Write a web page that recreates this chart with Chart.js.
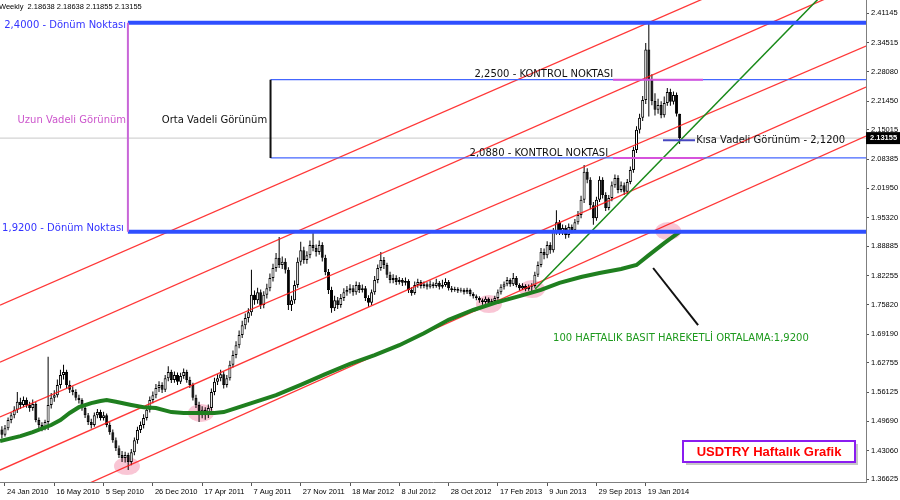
<!DOCTYPE html>
<html>
<head>
<meta charset="utf-8">
<title>USDTRY Haftalık Grafik</title>
<script src="https://cdn.jsdelivr.net/npm/chart.js@4"></script>
<style>
    html, body { margin: 0; padding: 0; background: #fff; }
    #wrap { width: 900px; height: 500px; }
</style>
</head>
<body>
<div id="wrap"><canvas id="usdtryChart" width="900" height="500"></canvas></div>
<script>
// Weekly candles, first one is the week before 24 Jan 2010 (week index -1)
const firstWeek = -1;

const opens = [
    1.478,1.466,1.481,1.499,1.510,1.522,1.540,1.533,1.544,1.533,1.526,
    1.535,1.499,1.488,1.481,1.495,1.533,1.549,1.555,1.578,1.600,
    1.607,1.578,1.567,1.562,1.549,1.544,1.526,1.510,1.495,1.488,
    1.510,1.517,1.504,1.510,1.488,1.472,1.454,1.436,1.421,1.414,
    1.421,1.405,1.427,1.454,1.477,1.488,1.504,1.522,1.544,1.555,
    1.571,1.578,1.567,1.593,1.607,1.589,1.600,1.585,1.598,1.607,
    1.589,1.578,1.549,1.533,1.510,1.522,1.510,1.526,1.562,1.585,
    1.593,1.602,1.578,1.593,1.623,1.645,1.667,1.690,1.712,1.728,
    1.741,1.780,1.768,1.786,1.757,1.780,1.795,1.818,1.840,1.863,
    1.847,1.854,1.836,1.757,1.768,1.802,1.854,1.880,1.858,1.869,
    1.892,1.885,1.876,1.892,1.863,1.831,1.791,1.750,1.768,1.757,
    1.773,1.786,1.791,1.795,1.786,1.802,1.791,1.795,1.773,1.762,
    1.786,1.813,1.840,1.858,1.847,1.825,1.813,1.818,1.809,1.813,
    1.807,1.811,1.791,1.784,1.802,1.809,1.800,1.804,1.798,1.804,
    1.800,1.807,1.798,1.802,1.809,1.795,1.791,1.793,1.789,1.791,
    1.786,1.791,1.782,1.777,1.773,1.768,1.764,1.771,1.762,1.766,
    1.773,1.786,1.798,1.804,1.813,1.804,1.818,1.802,1.795,1.800,
    1.793,1.798,1.800,1.825,1.847,1.876,1.869,1.892,1.880,1.921,
    1.943,1.921,1.930,1.914,1.932,1.925,1.943,1.959,1.993,2.056,
    2.038,1.981,1.952,1.993,2.038,2.004,1.975,1.997,2.026,2.042,
    2.015,2.026,2.011,2.033,2.060,2.105,2.150,2.177,2.217,2.330,
    2.262,2.215,2.195,2.206,2.183,2.210,2.235,2.213,2.228,2.18638
];

const highs = [
    1.485,1.488,1.505,1.516,1.530,1.562,1.549,1.552,1.550,1.540,1.545,
    1.540,1.505,1.494,1.500,1.641,1.560,1.566,1.590,1.612,1.623,
    1.612,1.588,1.575,1.568,1.556,1.548,1.532,1.515,1.502,1.516,
    1.524,1.522,1.518,1.514,1.494,1.478,1.460,1.442,1.430,1.428,
    1.426,1.434,1.460,1.484,1.496,1.512,1.530,1.552,1.563,1.580,
    1.586,1.584,1.600,1.620,1.612,1.608,1.606,1.605,1.615,1.612,
    1.596,1.583,1.556,1.540,1.530,1.528,1.534,1.570,1.594,1.602,
    1.612,1.608,1.600,1.632,1.655,1.676,1.700,1.722,1.738,1.750,
    1.836,1.790,1.796,1.792,1.788,1.805,1.828,1.850,1.874,1.910,
    1.866,1.862,1.842,1.778,1.812,1.864,1.899,1.888,1.878,1.902,
    1.921,1.893,1.902,1.898,1.870,1.838,1.798,1.778,1.775,1.782,
    1.795,1.800,1.804,1.802,1.810,1.808,1.803,1.800,1.779,1.792,
    1.822,1.848,1.876,1.865,1.852,1.832,1.826,1.824,1.820,1.818,
    1.819,1.815,1.797,1.810,1.816,1.813,1.810,1.808,1.812,1.808,
    1.816,1.811,1.814,1.817,1.813,1.800,1.798,1.797,1.796,1.795,
    1.796,1.794,1.786,1.781,1.777,1.772,1.776,1.774,1.771,1.778,
    1.792,1.804,1.810,1.820,1.817,1.829,1.822,1.806,1.806,1.804,
    1.803,1.806,1.832,1.855,1.885,1.884,1.900,1.898,1.930,1.970,
    1.948,1.938,1.936,1.940,1.938,1.950,1.968,2.002,2.071,2.064,
    2.044,1.988,2.000,2.046,2.044,2.010,2.004,2.034,2.050,2.048,
    2.034,2.032,2.040,2.068,2.112,2.158,2.186,2.226,2.345,2.392,
    2.275,2.232,2.220,2.214,2.225,2.244,2.242,2.236,2.234,2.18638
];

const lows = [
    1.458,1.462,1.476,1.492,1.503,1.515,1.524,1.528,1.527,1.518,1.520,
    1.494,1.480,1.474,1.476,1.477,1.525,1.540,1.550,1.570,1.590,
    1.570,1.560,1.555,1.543,1.536,1.520,1.504,1.488,1.480,1.484,
    1.503,1.498,1.498,1.483,1.466,1.448,1.430,1.414,1.405,1.404,
    1.387,1.398,1.420,1.446,1.470,1.480,1.498,1.516,1.537,1.548,
    1.562,1.560,1.562,1.586,1.582,1.583,1.578,1.580,1.592,1.583,
    1.571,1.543,1.526,1.495,1.503,1.500,1.504,1.520,1.555,1.578,
    1.586,1.570,1.572,1.588,1.617,1.638,1.660,1.683,1.703,1.718,
    1.733,1.758,1.760,1.748,1.750,1.772,1.788,1.810,1.832,1.840,
    1.838,1.828,1.746,1.744,1.760,1.796,1.846,1.850,1.850,1.862,
    1.878,1.866,1.870,1.855,1.824,1.782,1.740,1.744,1.748,1.751,
    1.766,1.778,1.783,1.778,1.780,1.784,1.785,1.766,1.753,1.757,
    1.780,1.806,1.834,1.838,1.818,1.806,1.806,1.802,1.803,1.800,
    1.801,1.784,1.778,1.780,1.796,1.794,1.795,1.792,1.794,1.795,
    1.796,1.792,1.794,1.798,1.790,1.786,1.787,1.784,1.785,1.781,
    1.782,1.777,1.772,1.768,1.762,1.758,1.760,1.756,1.757,1.762,
    1.769,1.781,1.792,1.799,1.798,1.800,1.797,1.790,1.791,1.788,
    1.789,1.784,1.796,1.820,1.842,1.860,1.862,1.872,1.875,1.915,
    1.914,1.914,1.906,1.908,1.918,1.920,1.938,1.952,1.986,2.030,
    1.972,1.937,1.946,1.988,1.996,1.968,1.970,1.990,2.020,2.008,
    2.010,2.004,2.006,2.028,2.054,2.098,2.142,2.170,2.208,2.180,
    2.205,2.182,2.186,2.176,2.178,2.204,2.204,2.207,2.180,2.11855
];

const closes = [
    1.466,1.481,1.499,1.510,1.522,1.540,1.533,1.544,1.533,1.526,1.535,
    1.499,1.488,1.481,1.495,1.533,1.549,1.555,1.578,1.600,1.607,
    1.578,1.567,1.562,1.549,1.544,1.526,1.510,1.495,1.488,1.510,
    1.517,1.504,1.510,1.488,1.472,1.454,1.436,1.421,1.414,1.421,
    1.405,1.427,1.454,1.477,1.488,1.504,1.522,1.544,1.555,1.571,
    1.578,1.567,1.593,1.607,1.589,1.600,1.585,1.598,1.607,1.589,
    1.578,1.549,1.533,1.510,1.522,1.510,1.526,1.562,1.585,1.593,
    1.602,1.578,1.593,1.623,1.645,1.667,1.690,1.712,1.728,1.741,
    1.780,1.768,1.786,1.757,1.780,1.795,1.818,1.840,1.863,1.847,
    1.854,1.836,1.757,1.768,1.802,1.854,1.880,1.858,1.869,1.892,
    1.885,1.876,1.892,1.863,1.831,1.791,1.750,1.768,1.757,1.773,
    1.786,1.791,1.795,1.786,1.802,1.791,1.795,1.773,1.762,1.786,
    1.813,1.840,1.858,1.847,1.825,1.813,1.818,1.809,1.813,1.807,
    1.811,1.791,1.784,1.802,1.809,1.800,1.804,1.798,1.804,1.800,
    1.807,1.798,1.802,1.809,1.795,1.791,1.793,1.789,1.791,1.786,
    1.791,1.782,1.777,1.773,1.768,1.764,1.771,1.762,1.766,1.773,
    1.786,1.798,1.804,1.813,1.804,1.818,1.802,1.795,1.800,1.793,
    1.798,1.800,1.825,1.847,1.876,1.869,1.892,1.880,1.921,1.943,
    1.921,1.930,1.914,1.932,1.925,1.943,1.959,1.993,2.056,2.038,
    1.981,1.952,1.993,2.038,2.004,1.975,1.997,2.026,2.042,2.015,
    2.026,2.011,2.033,2.060,2.105,2.150,2.177,2.217,2.330,2.262,
    2.215,2.195,2.206,2.183,2.210,2.235,2.213,2.228,2.186,2.13155
];

// 100 week simple moving average
const maWeeks  = [-1.6, 5, 9, 15, 18, 21, 24, 28, 31, 33, 36, 41, 45, 49, 54, 58, 63, 68, 71, 75,
                  80, 88, 96, 104, 112, 120, 128, 136, 144, 152, 160, 167, 174, 180, 187, 193, 200, 205, 209, 214, 219];
const maValues = [1.452, 1.463, 1.472, 1.488, 1.499, 1.515, 1.528, 1.537, 1.542, 1.544, 1.540, 1.533, 1.528, 1.526, 1.517, 1.515, 1.515, 1.515, 1.517, 1.526,
                  1.537, 1.555, 1.578, 1.602, 1.625, 1.645, 1.667, 1.694, 1.724, 1.746, 1.764, 1.777, 1.791, 1.807, 1.820, 1.829, 1.838, 1.847, 1.869, 1.896, 1.921];

// Axis ticks
const xTickWeeks = [0, 16, 32, 48, 64, 80, 96, 112, 128, 144, 160, 176, 192, 208];
const xLabels = ['24 Jan 2010', '16 May 2010', '5 Sep 2010', '26 Dec 2010', '17 Apr 2011', '7 Aug 2011', '27 Nov 2011',
                 '18 Mar 2012', '8 Jul 2012', '28 Oct 2012', '17 Feb 2013', '9 Jun 2013', '29 Sep 2013', '19 Jan 2014'];
const yTicks = [2.41145, 2.34515, 2.28080, 2.21450, 2.15015, 2.08385, 2.01950, 1.95320, 1.88885,
                1.82255, 1.75820, 1.69190, 1.62755, 1.56125, 1.49690, 1.43060, 1.36625];

// Drawn objects (week index / price)
const edgeWeeks = [-1.62, 279.5];
const channelLeft  = [1.757, 1.629, 1.506, 1.387, 1.268];
const channelRight = [2.603, 2.484, 2.338, 2.246, 2.136];
const trendWeeks = [172.1, 268];
const trendValues = [1.793, 2.472];
const turnLevels = [2.390, 1.9215];     // 2,4000 / 1,9200 Dönüm Noktası
const checkLevels = [2.2625, 2.087];    // 2,2500 / 2,0880 Kontrol Noktası
const shortLevel = 2.127;               // Kısa vadeli 2,1200
const lowMarkWeeks  = [39.6, 63.6, 157.1, 171.1, 215.3];
const lowMarkValues = [1.396, 1.515, 1.7594, 1.793, 1.923];
const arrowWeeks = [210.4, 225];
const arrowValues = [1.8402, 1.7123];

const yMin = 1.3602, yMax = 2.4413;
const lastClose = closes[closes.length - 1];
const weekOf = i => firstWeek + i;

function segment(label, xs, ys, color, width, order) {
    return {
        type: 'line',
        label: label,
        data: xs.map((x, i) => ({ x: x, y: ys[i] })),
        borderColor: color,
        borderWidth: width,
        pointRadius: 0,
        pointHoverRadius: 0,
        tension: 0,
        fill: false,
        order: order
    };
}

const notes = [
    { text: '2,4000 - Dönüm Noktası', week: 39.3, price: 2.385, align: 'right', color: '#3333ff' },
    { text: 'Uzun Vadeli Görünüm', week: 39.3, price: 2.1706, align: 'right', color: '#cc55cc' },
    { text: 'Orta Vadeli Görünüm', week: 85.1, price: 2.1706, align: 'right', color: '#111111' },
    { text: '2,2500 - KONTROL NOKTASI', week: 197.4, price: 2.2753, align: 'right', color: '#111111' },
    { text: '2,0880 - KONTROL NOKTASI', week: 195.8, price: 2.098, align: 'right', color: '#111111' },
    { text: 'Kısa Vadeli Görünüm - 2,1200', week: 224.4, price: 2.127, align: 'left', color: '#111111' },
    { text: '1,9200 - Dönüm Noktası', week: 38.6, price: 1.930, align: 'right', color: '#3333ff' },
    { text: '100 HAFTALIK BASIT HAREKETLİ ORTALAMA:1,9200', week: 177.9, price: 1.683, align: 'left', color: '#1e9a1e' }
];

// Pink circles behind, texts and boxes on top
const overlay = {
    id: 'overlay',
    beforeDatasetsDraw(chart) {
        const { ctx, chartArea, scales: { x, y } } = chart;
        ctx.save();
        ctx.beginPath();
        ctx.rect(chartArea.left, chartArea.top, chartArea.width, chartArea.height);
        ctx.clip();
        ctx.fillStyle = 'rgba(246, 168, 190, 0.65)';
        lowMarkWeeks.forEach((w, i) => {
            ctx.beginPath();
            ctx.ellipse(x.getPixelForValue(w), y.getPixelForValue(lowMarkValues[i]), 13, 9, 0, 0, Math.PI * 2);
            ctx.fill();
        });
        ctx.restore();
    },
    afterDatasetsDraw(chart) {
        const { ctx, chartArea, scales: { x, y } } = chart;
        ctx.save();
        ctx.textBaseline = 'middle';

        ctx.font = "10px 'DejaVu Sans'";
        notes.forEach(n => {
            ctx.fillStyle = n.color;
            ctx.textAlign = n.align;
            ctx.fillText(n.text, x.getPixelForValue(n.week), y.getPixelForValue(n.price));
        });

        // header
        ctx.font = "7.5px 'Liberation Sans'";
        ctx.fillStyle = '#000';
        ctx.textAlign = 'left';
        ctx.fillText('Weekly  ' + opens[opens.length - 1].toFixed(5) + ' ' + highs[highs.length - 1].toFixed(5) + ' ' +
                     lows[lows.length - 1].toFixed(5) + ' ' + lastClose.toFixed(5), -1, 7);

        // title box
        const bx = 683, by = 441, bw = 172, bh = 21;
        ctx.fillStyle = 'rgba(0, 0, 0, 0.22)';
        ctx.fillRect(bx + 3, by + 3, bw, bh);
        ctx.fillStyle = '#fff';
        ctx.fillRect(bx, by, bw, bh);
        ctx.strokeStyle = '#8a1cf0';
        ctx.lineWidth = 2;
        ctx.strokeRect(bx, by, bw, bh);
        ctx.fillStyle = '#ff0000';
        ctx.font = "bold 13px 'Liberation Sans'";
        ctx.textAlign = 'center';
        ctx.fillText('USDTRY Haftalık Grafik', bx + bw / 2, by + bh / 2 + 1);

        // current price tag on the axis
        const py = y.getPixelForValue(lastClose);
        ctx.fillStyle = '#000';
        ctx.fillRect(chartArea.right, py - 6, 34, 12);
        ctx.fillStyle = '#fff';
        ctx.font = "bold 7.5px 'Liberation Sans'";
        ctx.textAlign = 'left';
        ctx.fillText(lastClose.toFixed(5), chartArea.right + 4, py);
        ctx.restore();
    }
};

const datasets = [
    {
        label: 'wicks',
        data: opens.map((o, i) => ({ x: weekOf(i), y: [lows[i], highs[i]] })),
        backgroundColor: '#000',
        borderWidth: 0,
        barThickness: 1,
        grouped: false,
        inflateAmount: 0,
        order: 12
    },
    {
        label: 'bodies',
        data: opens.map((o, i) => ({ x: weekOf(i), y: [o, closes[i]] })),
        backgroundColor: c => closes[c.dataIndex] >= opens[c.dataIndex] ? '#ffffff' : '#000000',
        borderColor: '#000',
        borderWidth: 1,
        borderSkipped: false,
        barThickness: 3,
        minBarLength: 1,
        grouped: false,
        inflateAmount: 0,
        order: 11
    },
    segment('bid', edgeWeeks, [lastClose, lastClose], '#c8c8c8', 1, 13),
    segment('MA100', maWeeks, maValues, '#1f7f1f', 4, 6),
    segment('trend', trendWeeks, trendValues, '#1a8a1a', 1.5, 5)
];

channelLeft.forEach((v, i) => {
    datasets.push(segment('channel' + i, edgeWeeks, [v, channelRight[i]], 'rgba(255, 20, 20, 0.85)', 1.3, 8));
});

turnLevels.forEach((v, i) => {
    datasets.push(segment('turn' + i, [39.9, edgeWeeks[1]], [v, v], '#2f4fff', 4, 2));
});
checkLevels.forEach((v, i) => {
    datasets.push(segment('check' + i, [86.2, edgeWeeks[1]], [v, v], '#4466ff', 1.3, 3));
    datasets.push(segment('checkMark' + i, [197.4, 226.6], [v, v], '#d652dc', 2, 1));
});
datasets.push(segment('short', [213.6, 224], [shortLevel, shortLevel], '#4646c0', 2, 1));
datasets.push(segment('longSpan', [39.9, 39.9], turnLevels, '#c866d8', 2, 1));
datasets.push(segment('midSpan', [86.2, 86.2], checkLevels, '#111111', 2, 1));
datasets.push(segment('arrow', arrowWeeks, arrowValues, '#111111', 2, 1));

const tickFont = { family: 'Liberation Sans', size: 7.5 };

new Chart(document.getElementById('usdtryChart'), {
    type: 'bar',
    data: { datasets: datasets },
    options: {
        responsive: false,
        animation: false,
        layout: { padding: 0, autoPadding: false },
        plugins: {
            legend: { display: false },
            tooltip: { enabled: false }
        },
        scales: {
            x: {
                type: 'linear',
                position: 'bottom',
                min: edgeWeeks[0],
                max: edgeWeeks[1],
                offset: false,
                grid: { offset: false, drawOnChartArea: false, drawTicks: true, tickLength: 4, color: '#555' },
                border: { display: true, color: '#7f7f7f' },
                ticks: {
                    align: 'start',
                    autoSkip: false,
                    maxRotation: 0,
                    minRotation: 0,
                    padding: 1,
                    color: '#000',
                    font: tickFont,
                    callback: (v, i) => ' ' + xLabels[i]
                },
                afterBuildTicks: s => { s.ticks = xTickWeeks.map(v => ({ value: v })); },
                afterFit: s => { s.height = 18; s.paddingLeft = 0; s.paddingRight = 0; }
            },
            y: {
                type: 'linear',
                position: 'right',
                min: yMin,
                max: yMax,
                grid: { drawOnChartArea: false, drawTicks: true, tickLength: 3, color: '#555' },
                border: { display: true, color: '#7f7f7f' },
                ticks: {
                    padding: 2,
                    color: '#000',
                    font: tickFont,
                    callback: v => v.toFixed(5)
                },
                afterBuildTicks: s => { s.ticks = yTicks.map(v => ({ value: v })); },
                afterFit: s => { s.width = 34; s.paddingTop = 0; s.paddingBottom = 0; }
            }
        }
    },
    plugins: [overlay]
});
</script>
</body>
</html>
